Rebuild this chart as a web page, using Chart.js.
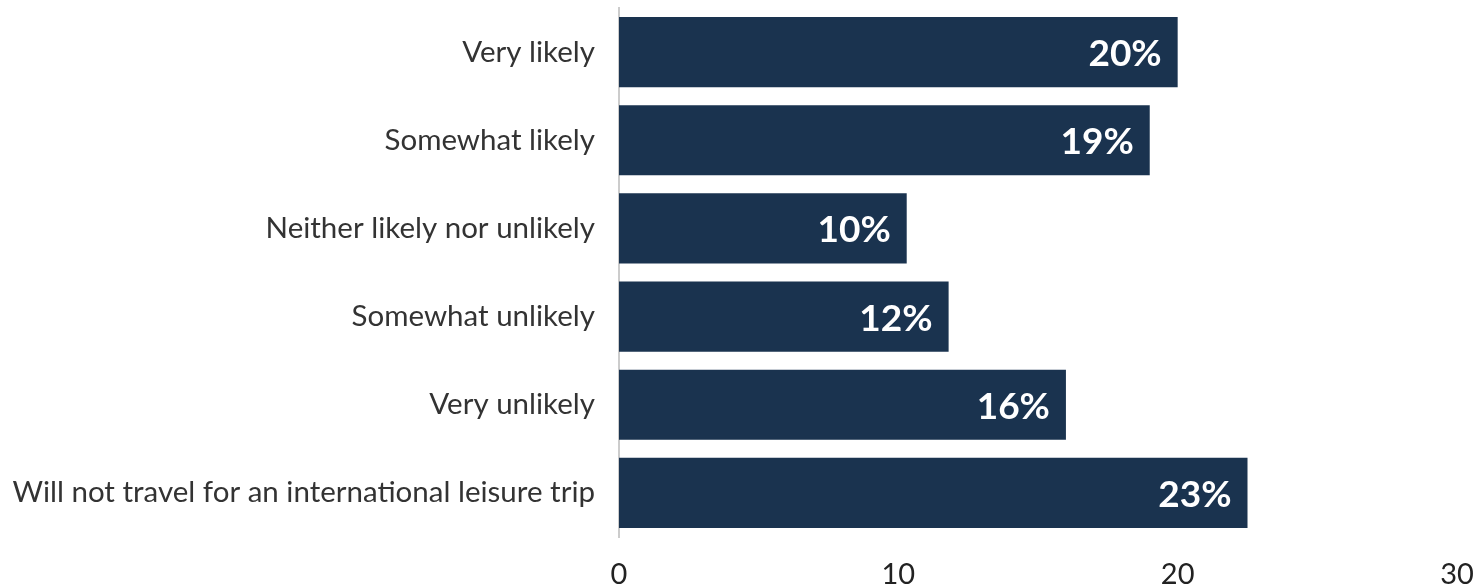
<!DOCTYPE html>
<html lang="en">
<head>
  <meta charset="UTF-8">
  <title>International leisure travel likelihood</title>
  <script src="https://cdn.jsdelivr.net/npm/chart.js"></script>
  <style>
    html, body { margin: 0; padding: 0; background: #fff; }
    #wrap { width: 1474px; height: 586px; position: relative; }
  </style>
</head>
<body>
  <div id="wrap"><canvas id="likelyChart"></canvas></div>

  <script>
    const categories = [
      'Very likely',
      'Somewhat likely',
      'Neither likely nor unlikely',
      'Somewhat unlikely',
      'Very unlikely',
      'Will not travel for an international leisure trip'
    ];
    const shares = [20.0, 19.0, 10.3, 11.8, 16.0, 22.5];
    const xTicks = [0, 10, 20, 30];

    // white percent labels inside the end of each bar
    const barLabels = {
      id: 'barLabels',
      afterDatasetsDraw(chart) {
        const ctx = chart.ctx;
        const meta = chart.getDatasetMeta(0);
        ctx.save();
        ctx.fillStyle = '#ffffff';
        ctx.font = 'bold 37px Lato';
        ctx.textAlign = 'right';
        ctx.textBaseline = 'middle';
        meta.data.forEach((bar, i) => {
          ctx.fillText(Math.round(shares[i]) + '%', bar.x - 16, bar.y + 2);
        });
        ctx.restore();
      }
    };

    const ctx = document.getElementById('likelyChart').getContext('2d');
    new Chart(ctx, {
      type: 'bar',
      data: {
        labels: categories,
        datasets: [{
          data: shares,
          backgroundColor: '#1a334f',
          borderWidth: 0,
          categoryPercentage: 1,
          barPercentage: 0.795
        }]
      },
      options: {
        indexAxis: 'y',
        responsive: true,
        maintainAspectRatio: false,
        animation: false,
        layout: { padding: { top: 8, right: 17, left: 0, bottom: 0 } },
        plugins: { legend: { display: false }, tooltip: { enabled: false } },
        scales: {
          x: {
            min: 0,
            max: 30,
            afterBuildTicks: axis => { axis.ticks = xTicks.map(v => ({ value: v })); },
            afterFit: axis => {
              axis.height = 49;
              axis.paddingLeft = 0;
              axis.paddingRight = 0;
            },
            grid: { display: false, drawTicks: false },
            border: { display: false },
            ticks: { color: '#222', font: { family: 'Lato', size: 29 }, padding: 20 }
          },
          y: {
            afterFit: axis => {
              axis.width = 619;
              axis.paddingTop = 0;
              axis.paddingBottom = 0;
            },
            grid: { display: false, drawTicks: false },
            border: { display: true, color: '#cccccc', width: 2 },
            ticks: { color: '#333', font: { family: 'Lato', size: 29.5 }, padding: 24 }
          }
        }
      },
      plugins: [barLabels]
    });
  </script>
</body>
</html>
